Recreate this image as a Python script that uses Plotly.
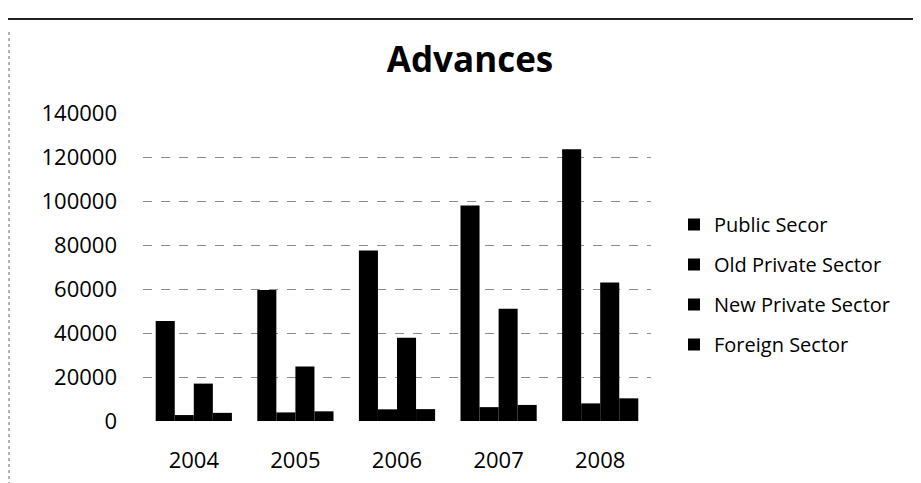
import plotly.graph_objects as go

years = ["2004", "2005", "2006", "2007", "2008"]
public_sector = [45500, 59500, 77500, 98000, 123500]
old_private = [2700, 3900, 5300, 6300, 8000]
new_private = [17000, 24800, 37800, 51000, 63000]
foreign_sector = [3700, 4400, 5400, 7300, 10300]

series_names = ["Public Secor", "Old Private Sector", "New Private Sector", "Foreign Sector"]
series_values = [public_sector, old_private, new_private, foreign_sector]

FONT = "Open Sans"

# plot area in figure pixels
L, T, W, H = 135, 105, 508, 308
FW, FH = 921, 483

def px(fx):
    return (fx - L) / W

def py(fy):
    return (T + H - fy) / H

fig = go.Figure()
for i, (name, vals) in enumerate(zip(series_names, series_values)):
    fig.add_trace(go.Bar(
        x=years, y=vals, name=name,
        marker=dict(color="#000000", line=dict(width=0)),
        legendgroup=f"g{i}",
    ))

fig.update_layout(
    width=FW, height=FH,
    paper_bgcolor="white", plot_bgcolor="white",
    barmode="group", bargap=0.25, bargroupgap=0,
    margin=dict(l=L, r=FW - L - W, t=T, b=FH - T - H, autoexpand=False),
    title=dict(text="<b>Advances</b>", x=462/FW, xanchor="center",
               y=1-52/FH, yanchor="middle", yref="container",
               font=dict(family=FONT, size=35, color="#000")),
    font=dict(family=FONT, color="#000"),
    showlegend=True,
    legend=dict(x=px(666), xanchor="left", y=py(276.5), yanchor="middle",
                font=dict(family=FONT, size=20, color="#000"),
                tracegroupgap=11, itemwidth=30, bgcolor="rgba(0,0,0,0)"),
    xaxis=dict(type="category", showgrid=False, showline=False, ticks="",
               tickfont=dict(size=22), ticklabelstandoff=24),
    yaxis=dict(range=[0, 140000], dtick=20000, tickformat="d",
               showgrid=True, gridcolor="#8a8a8a", griddash="dash", gridwidth=1,
               zeroline=False, showline=False, ticks="",
               tickfont=dict(size=22), ticklabelstandoff=25),
    shapes=[
        dict(type="line", xref="paper", yref="paper", x0=px(0), x1=px(FW),
             y0=py(11), y1=py(11), line=dict(color="#222", width=2)),
        dict(type="line", xref="paper", yref="paper", x0=px(1), x1=px(1),
             y0=py(FH), y1=py(22), line=dict(color="#666", width=1, dash="dot")),
    ],
)

fig.write_html("out.html")
